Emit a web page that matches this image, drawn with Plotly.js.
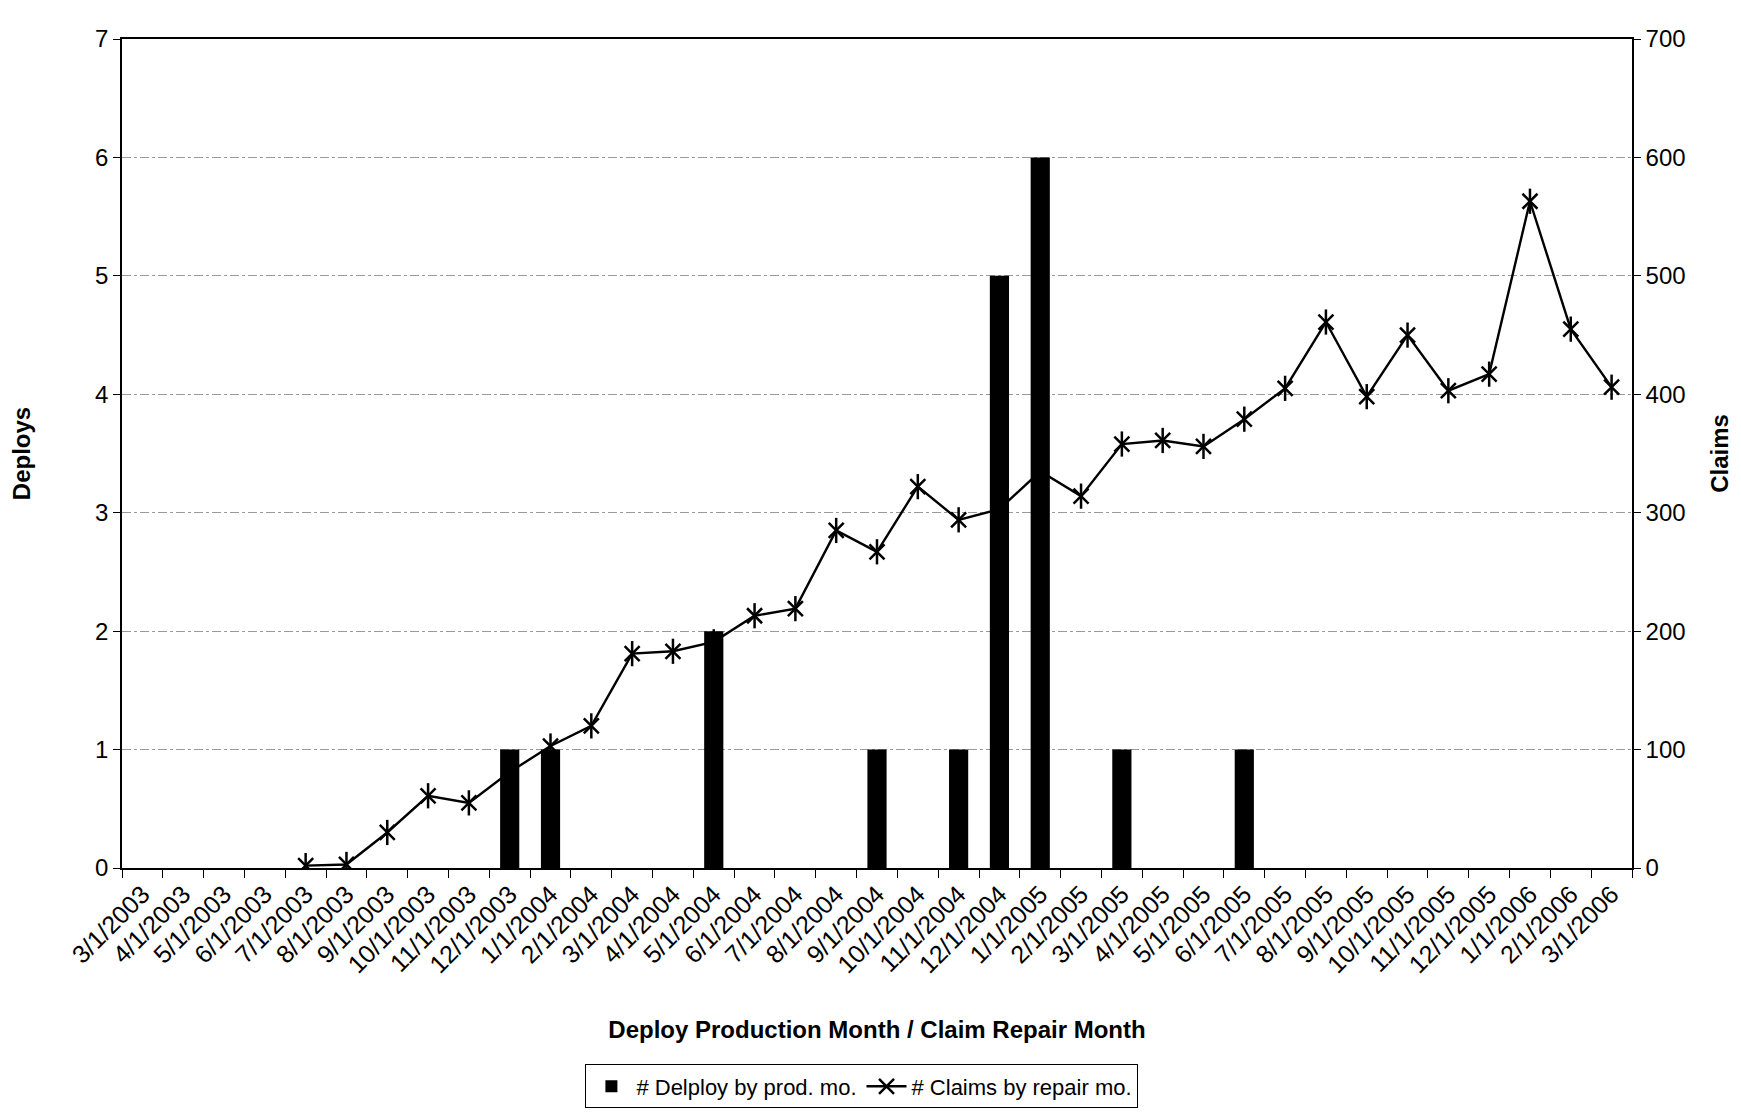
<!DOCTYPE html>
<html>
<head>
<meta charset="utf-8">
<script src="https://cdn.plot.ly/plotly-3.0.1.min.js"></script>
<style>
  html, body { margin: 0; padding: 0; background: #ffffff; }
  #chart { width: 1741px; height: 1120px; }
</style>
</head>
<body>
<div id="chart"></div>
<script>
// Category labels (production / repair month)
const months = [
  "3/1/2003","4/1/2003","5/1/2003","6/1/2003","7/1/2003","8/1/2003","9/1/2003",
  "10/1/2003","11/1/2003","12/1/2003","1/1/2004","2/1/2004","3/1/2004","4/1/2004",
  "5/1/2004","6/1/2004","7/1/2004","8/1/2004","9/1/2004","10/1/2004","11/1/2004",
  "12/1/2004","1/1/2005","2/1/2005","3/1/2005","4/1/2005","5/1/2005","6/1/2005",
  "7/1/2005","8/1/2005","9/1/2005","10/1/2005","11/1/2005","12/1/2005","1/1/2006",
  "2/1/2006","3/1/2006"
];

// # Deploys by production month (left axis)
const deploys = [
  0,0,0,0,0,0,0,
  0,0,1,1,0,0,0,
  2,0,0,0,1,0,1,
  5,6,0,1,0,0,1,
  0,0,0,0,0,0,0,
  0,0
];

// # Claims by repair month (right axis)
const claims = [
  null,null,null,null,2,3,30,
  61,55,81,103,120,181,183,
  191,213,219,285,267,322,294,
  303,335,314,358,361,356,379,
  405,461,398,450,403,417,563,
  455,406
];

const deployName = "# Delploy by prod. mo.";
const claimName = "# Claims by repair mo.";

const FONT = "Arial, 'Liberation Sans', sans-serif";

const traces = [
  {
    type: "bar",
    name: deployName,
    x: months,
    y: deploys,
    yaxis: "y2",
    marker: { color: "#000000", line: { width: 0 } },
    hoverinfo: "skip"
  },
  {
    type: "scatter",
    mode: "lines+markers",
    name: claimName,
    x: months,
    y: claims,
    yaxis: "y",
    line: { color: "#000000", width: 2.4 },
    marker: { symbol: "x-thin-open", size: 15, color: "#000000", line: { color: "#000000", width: 2.5 } },
    hoverinfo: "skip"
  },
  {
    type: "scatter",
    mode: "markers",
    name: claimName,
    showlegend: false,
    x: months,
    y: claims,
    yaxis: "y",
    marker: { symbol: "line-ns-open", size: 18, color: "#000000", line: { color: "#000000", width: 2.5 } },
    hoverinfo: "skip"
  }
];

const layout = {
  width: 1741,
  height: 1120,
  paper_bgcolor: "#ffffff",
  plot_bgcolor: "#ffffff",
  font: { family: FONT, size: 22, color: "#000000" },
  margin: { l: 122, r: 109, t: 39, b: 249 },
  showlegend: true,
  bargap: 0.53,
  xaxis: {
    type: "category",
    categoryorder: "array",
    categoryarray: months,
    range: [-0.5, months.length - 0.5],
    autorange: false,
    tickangle: -45,
    tickson: "boundaries",
    ticks: "outside",
    ticklen: 8,
    tickcolor: "#000000",
    showline: true,
    linecolor: "#000000",
    linewidth: 1.8,
    mirror: true,
    showgrid: false,
    tickfont: { family: FONT, size: 25, color: "#000000" },
    title: {
      text: "<b>Deploy Production Month / Claim Repair Month</b>",
      font: { family: FONT, size: 24, color: "#000000" },
      standoff: 44
    }
  },
  yaxis: {
    side: "right",
    range: [0, 700],
    autorange: false,
    dtick: 100,
    tick0: 0,
    ticks: "outside",
    ticklen: 7,
    tickcolor: "#000000",
    showline: true,
    linecolor: "#000000",
    linewidth: 1.8,
    zeroline: false,
    showgrid: true,
    gridcolor: "#9a9a9a",
    gridwidth: 1,
    griddash: "dashdot",
    tickfont: { family: FONT, size: 24, color: "#000000" },
    title: {
      text: "<b>Claims</b>",
      font: { family: FONT, size: 24, color: "#000000" },
      standoff: 26
    }
  },
  yaxis2: {
    overlaying: "y",
    side: "left",
    range: [0, 7],
    autorange: false,
    dtick: 1,
    tick0: 0,
    ticks: "outside",
    ticklen: 7,
    tickcolor: "#000000",
    showline: true,
    linecolor: "#000000",
    linewidth: 1.8,
    zeroline: false,
    showgrid: false,
    tickfont: { family: FONT, size: 24, color: "#000000" },
    title: {
      text: "<b>Deploys</b>",
      font: { family: FONT, size: 24, color: "#000000" },
      standoff: 58
    }
  },
  legend: {
    orientation: "h",
    x: 0.49,
    xanchor: "center",
    y: -0.237,
    yanchor: "top",
    bordercolor: "#000000",
    borderwidth: 1,
    bgcolor: "#ffffff",
    font: { family: FONT, size: 22, color: "#000000" },
    traceorder: "normal",
    itemwidth: 40
  },
  hovermode: false
};

Plotly.newPlot("chart", traces, layout, { displayModeBar: false, staticPlot: true });
</script>
</body>
</html>
